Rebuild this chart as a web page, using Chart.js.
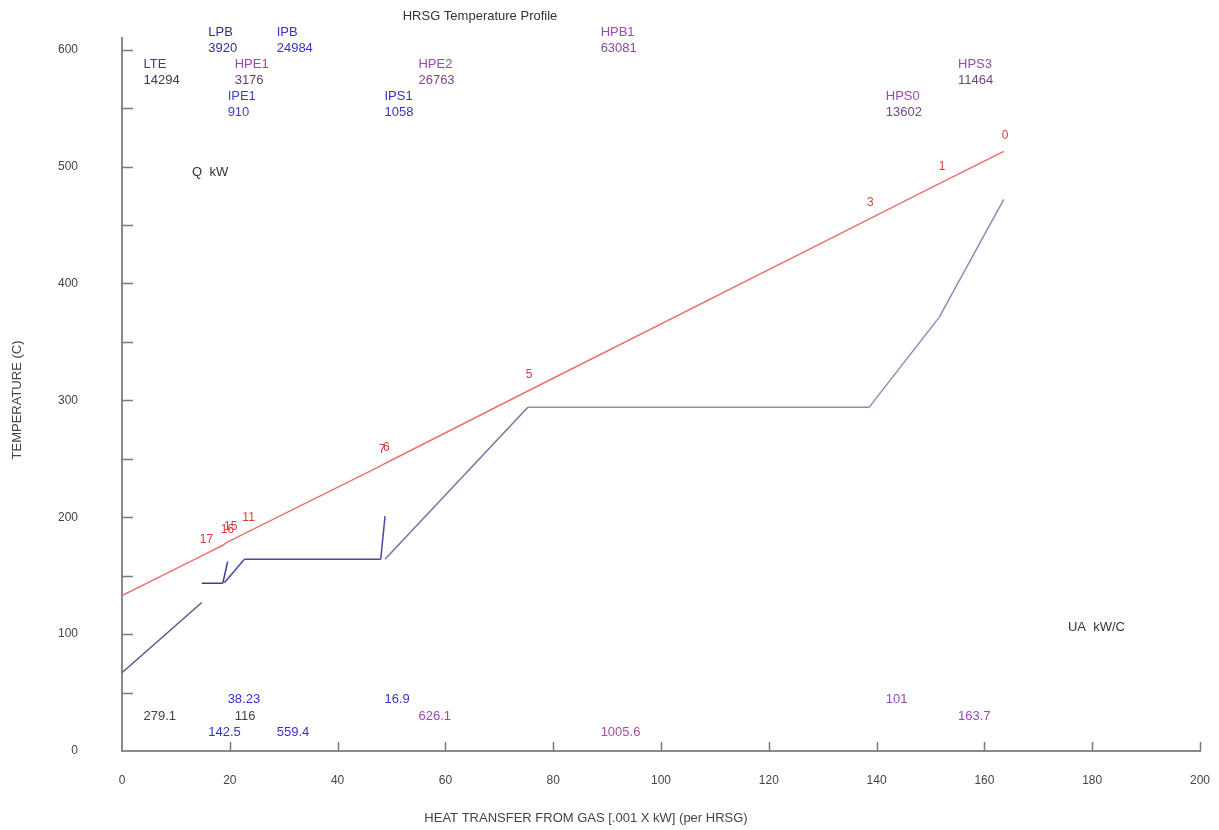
<!DOCTYPE html>
<html>
<head>
<meta charset="utf-8">
<title>HRSG Temperature Profile</title>
<script src="https://cdn.jsdelivr.net/npm/chart.js@4.4.1/dist/chart.umd.min.js"></script>
<style>
  html, body { margin: 0; padding: 0; background: #fff; }
  #wrap { width: 1219px; height: 830px; }
</style>
</head>
<body>
<div id="wrap"><canvas id="hrsg" width="1219" height="830"></canvas></div>
<script>
// --- gas side: heat transferred [.001 x kW] vs temperature [C] ---
const gasQ = [0, 14.8, 18.7, 19.3, 22.7, 48.0, 48.8, 75.3, 138.6, 151.9, 163.6];
const gasT = [133, 167, 176, 178, 186, 244, 246, 308, 455, 486, 513];
const gasPointNames = ['', '17', '16', '15', '11', '7', '6', '5', '3', '1', '0'];

// --- water / steam side, one short segment per heat exchanger ---
const waterSegNames = ['LTE', 'LPB', 'LPS', 'IPE1', 'IPB', 'IPS1', 'HPE2', 'HPB1', 'HPS0', 'HPS3'];
const waterSegQ = [[0, 14.8], [14.8, 18.7], [18.7, 19.6], [19.0, 22.7], [22.7, 48.0],
                   [48.0, 48.8], [48.8, 75.3], [75.3, 138.6], [138.6, 151.6], [151.6, 163.6]];
const waterSegT = [[67, 127], [143.5, 143.5], [143.5, 162], [144, 164], [164, 164],
                   [164, 201], [164, 294], [294, 294], [294, 371], [371, 472]];
const waterSegColors = ['#5a5a8c', '#3c3c9a', '#3c3c9a', '#4848a8', '#4a4a9c',
                        '#4a4a9c', '#7474a4', '#9a86b4', '#9a86b4', '#9a86b4'];

// --- section duty (Q kW) and UA (kW/C) printed at top / bottom ---
const sectionLabels = ['LTE', 'LPB', 'IPB', 'HPE1', 'IPE1', 'IPS1', 'HPE2', 'HPB1', 'HPS0', 'HPS3'];
const sectionDuty   = ['14294', '3920', '24984', '3176', '910', '1058', '26763', '63081', '13602', '11464'];
const sectionUA     = ['279.1', '142.5', '559.4', '116', '38.23', '16.9', '626.1', '1005.6', '101', '163.7'];
const sectionTextQ  = [4.0, 16.0, 28.7, 20.9, 19.6, 48.7, 55.0, 88.8, 141.7, 155.1];
const sectionRow    = [1, 0, 0, 1, 2, 2, 1, 0, 2, 1];

const xTicks = [0, 20, 40, 60, 80, 100, 120, 140, 160, 180, 200];
const yTicks = [0, 100, 200, 300, 400, 500, 600];

// colours of the printed labels
const nameColors = ['#40406e', '#303092', '#3434c8', '#9a48b8', '#4040d0', '#3434c8', '#9a48b8', '#9a48b8', '#9a48b8', '#9a48b8'];
const dutyColors = ['#383850', '#303092', '#3434c8', '#6a3a80', '#4040d0', '#3434c8', '#7a4a90', '#8a4aa0', '#6a4a80', '#6a4a80'];
const uaColors   = ['#404048', '#3434c8', '#3434c8', '#404048', '#3434c8', '#3434c8', '#9a48b8', '#b04aa8', '#9a48b8', '#9a48b8'];

const topRowT = [615, 587, 560];
const bottomRowT = [16, 30, 44];
const FONT = '"Liberation Sans", Arial, sans-serif';

Chart.defaults.font.family = FONT;

const datasets = [{
    label: 'Gas',
    data: gasQ.map((q, i) => ({ x: q, y: gasT[i] })),
    showLine: true,
    borderColor: 'rgb(236,112,112)',
    borderWidth: 1.5,
    pointRadius: 0
}];
waterSegQ.forEach((seg, i) => {
    datasets.push({
        label: waterSegNames[i],
        data: seg.map((q, j) => ({ x: q, y: waterSegT[i][j] })),
        showLine: true,
        borderColor: waterSegColors[i],
        borderWidth: 1.5,
        pointRadius: 0
    });
});

function text(ctx, str, x, y, color, size, align) {
    ctx.fillStyle = color;
    ctx.font = size + 'px ' + FONT;
    ctx.textAlign = align || 'left';
    ctx.textBaseline = 'middle';
    ctx.fillText(str, x, y);
}

// inward ticks, annotations and titles
const decor = {
    id: 'decor',
    afterDraw(chart) {
        const { ctx, chartArea } = chart;
        const x = chart.scales.x, y = chart.scales.y;
        ctx.save();

        ctx.strokeStyle = '#7a7a7a';
        ctx.lineWidth = 1.5;
        ctx.beginPath();
        for (let v = 50; v <= 600; v += 50) {
            const py = Math.round(y.getPixelForValue(v)) + 0.5;
            ctx.moveTo(chartArea.left, py);
            ctx.lineTo(chartArea.left + 11, py);
        }
        xTicks.forEach(v => {
            if (v === 0) return;
            const px = Math.round(x.getPixelForValue(v)) + 0.5;
            ctx.moveTo(px, chartArea.bottom);
            ctx.lineTo(px, chartArea.bottom - 9);
        });
        ctx.stroke();

        // gas point numbers
        gasPointNames.forEach((n, i) => {
            if (!n) return;
            text(ctx, n, x.getPixelForValue(gasQ[i]) - 2, y.getPixelForValue(gasT[i]) - 16, '#e03a3a', 12);
        });

        // section duty / UA
        sectionLabels.forEach((name, i) => {
            const px = x.getPixelForValue(sectionTextQ[i]);
            const py = y.getPixelForValue(topRowT[sectionRow[i]]);
            text(ctx, name, px, py, nameColors[i], 13);
            text(ctx, sectionDuty[i], px, py + 16, dutyColors[i], 13);
            text(ctx, sectionUA[i], px, y.getPixelForValue(bottomRowT[sectionRow[i]]), uaColors[i], 13);
        });

        text(ctx, 'Q  kW', x.getPixelForValue(13.0), y.getPixelForValue(495), '#333', 13);
        text(ctx, 'UA  kW/C', x.getPixelForValue(175.5), y.getPixelForValue(106), '#333', 13);

        text(ctx, 'HRSG Temperature Profile', 480, 16, '#333', 13, 'center');
        text(ctx, 'HEAT TRANSFER FROM GAS [.001 X kW] (per HRSG)', 586, 818, '#444', 13, 'center');

        ctx.translate(17, 400);
        ctx.rotate(-Math.PI / 2);
        text(ctx, 'TEMPERATURE (C)', 0, 0, '#444', 13, 'center');

        ctx.restore();
    }
};

new Chart(document.getElementById('hrsg'), {
    type: 'scatter',
    data: { datasets },
    options: {
        responsive: false,
        devicePixelRatio: 1,
        animation: false,
        layout: { padding: { top: 38, right: 19, left: 0, bottom: 0 } },
        plugins: { legend: { display: false }, tooltip: { enabled: false } },
        scales: {
            x: {
                type: 'linear',
                min: 0, max: 200,
                afterFit: s => { s.height = 79; s.paddingLeft = 0; s.paddingRight = 0; },
                afterBuildTicks: s => { s.ticks = xTicks.map(v => ({ value: v })); },
                ticks: { color: '#444', font: { size: 12 }, padding: 22, maxRotation: 0 },
                grid: { drawOnChartArea: false, drawTicks: false },
                border: { color: '#8a8a8a', width: 2 }
            },
            y: {
                type: 'linear',
                min: 0, max: 610,
                afterFit: s => { s.width = 122; s.paddingTop = 0; s.paddingBottom = 0; },
                afterBuildTicks: s => { s.ticks = yTicks.map(v => ({ value: v })); },
                ticks: { color: '#444', font: { size: 12 }, padding: 44 },
                grid: { drawOnChartArea: false, drawTicks: false },
                border: { color: '#8a8a8a', width: 2 }
            }
        }
    },
    plugins: [decor]
});
</script>
</body>
</html>
